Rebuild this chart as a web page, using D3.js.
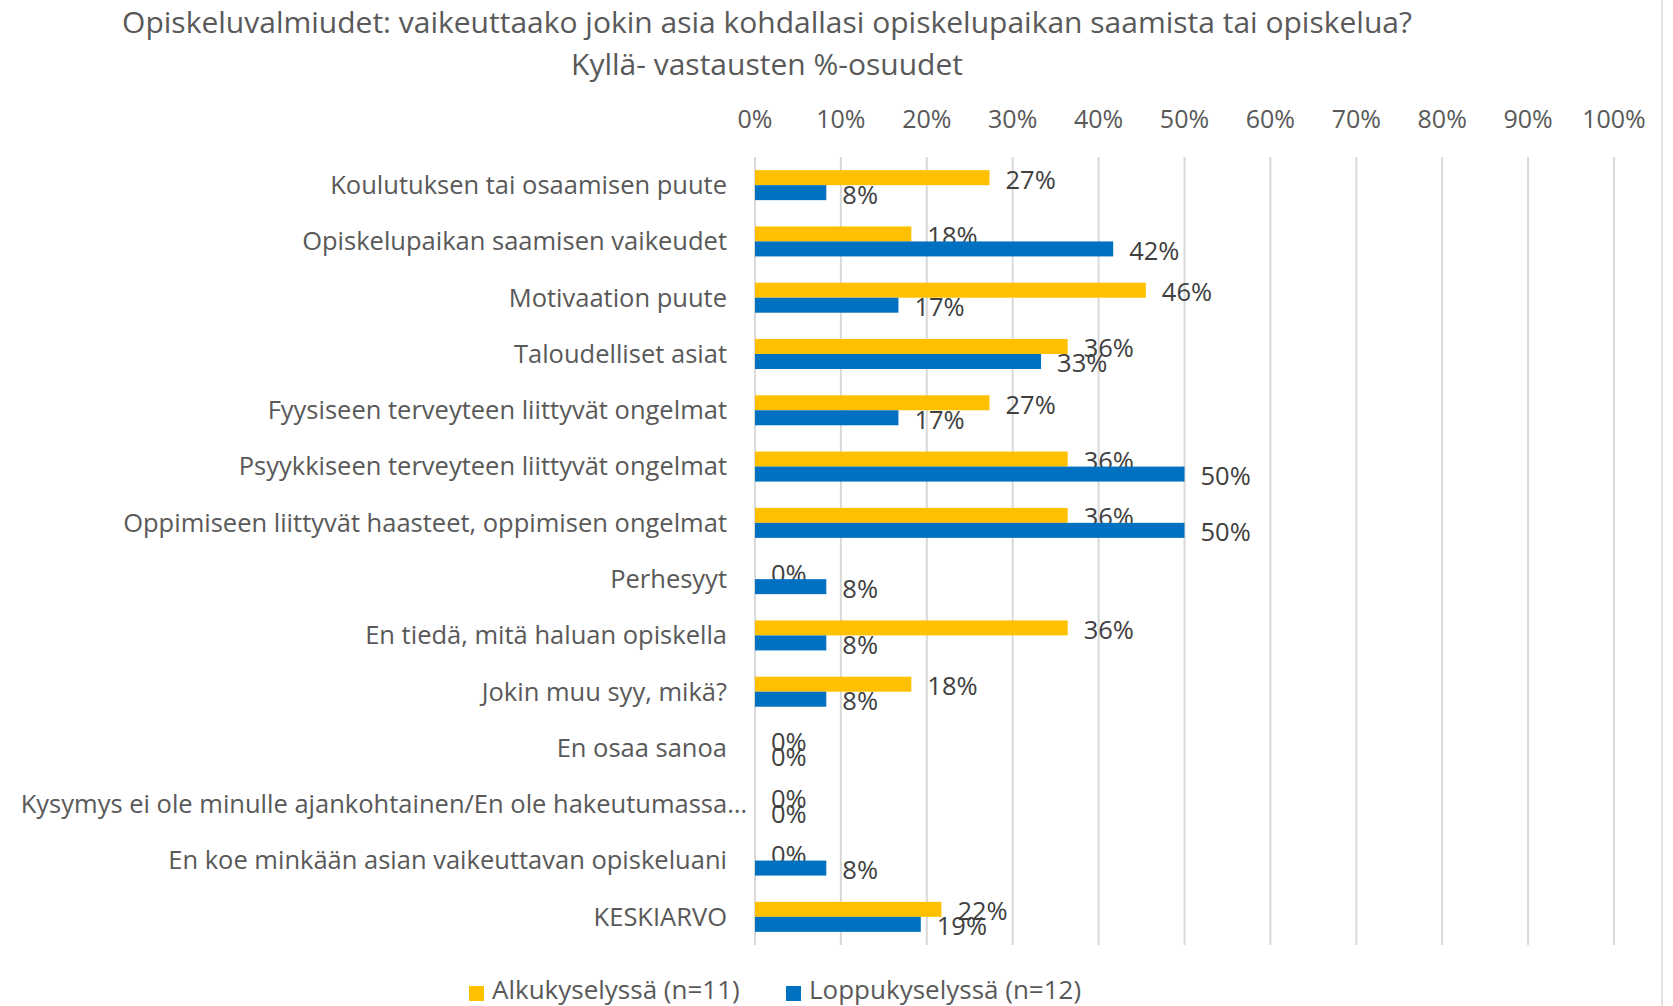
<!DOCTYPE html>
<html>
<head>
<meta charset="utf-8">
<script src="https://cdn.jsdelivr.net/npm/d3@7"></script>
<style>
  body { margin: 0; background: #fff; }
  svg { display: block; font-family: "Open Sans", sans-serif; }
</style>
</head>
<body>
<svg id="chart"></svg>
<script>
const categories = [
    'Koulutuksen tai osaamisen puute',
    'Opiskelupaikan saamisen vaikeudet',
    'Motivaation puute',
    'Taloudelliset asiat',
    'Fyysiseen terveyteen liittyvät ongelmat',
    'Psyykkiseen terveyteen liittyvät ongelmat',
    'Oppimiseen liittyvät haasteet, oppimisen ongelmat',
    'Perhesyyt',
    'En tiedä, mitä haluan opiskella',
    'Jokin muu syy, mikä?',
    'En osaa sanoa',
    'Kysymys ei ole minulle ajankohtainen/En ole hakeutumassa…',
    'En koe minkään asian vaikeuttavan opiskeluani',
    'KESKIARVO'
];
// % of "yes" answers
const alkuValues = [27.3, 18.2, 45.5, 36.4, 27.3, 36.4, 36.4, 0, 36.4, 18.2, 0, 0, 0, 21.7];
const loppuValues = [8.3, 41.7, 16.7, 33.3, 16.7, 50, 50, 8.3, 8.3, 8.3, 0, 0, 8.3, 19.3];
const seriesNames = ['Alkukyselyssä (n=11)', 'Loppukyselyssä (n=12)'];
const seriesColors = ['#FFC000', '#0070C0'];
const tickValues = [0, 10, 20, 30, 40, 50, 60, 70, 80, 90, 100];

function drawChart() {
    const width = 1673;
    const height = 1006;
    const svg = d3.select('#chart')
        .attr('width', width)
        .attr('height', height);

    const x = d3.scaleLinear().domain([0, 100]).range([755, 1614]);
    const y = d3.scaleBand().domain(categories).range([157, 945])
        .paddingInner(0.467).paddingOuter(0.2335);
    const ySub = d3.scaleBand().domain([0, 1]).range([0, y.bandwidth()]);

    // chart frame edge on the right
    svg.append('line')
        .attr('x1', 1662).attr('x2', 1662)
        .attr('y1', 0).attr('y2', height)
        .style('stroke', '#d9d9d9').style('stroke-width', 1.5);

    // Title
    const title = svg.append('text')
        .attr('text-anchor', 'middle')
        .style('font-size', '30px')
        .style('fill', '#595959');
    title.append('tspan').attr('x', 767).attr('y', 33)
        .text('Opiskeluvalmiudet: vaikeuttaako jokin asia kohdallasi opiskelupaikan saamista tai opiskelua?');
    title.append('tspan').attr('x', 767).attr('y', 75)
        .text('Kyllä- vastausten %-osuudet');

    // gridlines
    svg.selectAll('.grid')
        .data(tickValues)
        .enter().append('line')
        .attr('class', 'grid')
        .attr('x1', d => x(d)).attr('x2', d => x(d))
        .attr('y1', 157).attr('y2', 945)
        .style('stroke', '#d9d9d9')
        .style('stroke-width', 2);

    // top tick labels
    svg.selectAll('.tick-label')
        .data(tickValues)
        .enter().append('text')
        .attr('class', 'tick-label')
        .attr('x', d => x(d))
        .attr('y', 128)
        .attr('text-anchor', 'middle')
        .style('font-size', '25px')
        .style('fill', '#595959')
        .text(d => d + '%');

    // category labels (the truncated one sits a bit further right, like in Excel)
    svg.selectAll('.cat-label')
        .data(categories)
        .enter().append('text')
        .attr('class', 'cat-label')
        .attr('x', d => d.endsWith('…') ? 747 : 727)
        .attr('y', d => y(d) + y.bandwidth() / 2)
        .attr('dy', '0.35em')
        .attr('text-anchor', 'end')
        .style('font-size', '25.5px')
        .style('fill', '#595959')
        .text(d => d);

    const series = [alkuValues, loppuValues];
    series.forEach((values, si) => {
        const rows = categories.map((c, i) => ({ cat: c, value: values[i] }));

        svg.selectAll('.bar-' + si)
            .data(rows)
            .enter().append('rect')
            .attr('class', 'bar-' + si)
            .attr('x', x(0))
            .attr('y', d => y(d.cat) + ySub(si))
            .attr('width', d => x(d.value) - x(0))
            .attr('height', ySub.bandwidth())
            .style('fill', seriesColors[si]);

        svg.selectAll('.val-' + si)
            .data(rows)
            .enter().append('text')
            .attr('class', 'val-' + si)
            .attr('x', d => x(d.value) + 16)
            .attr('y', d => y(d.cat) + ySub(si) + ySub.bandwidth() / 2 + 2)
            .attr('dy', '0.35em')
            .style('font-size', '25.5px')
            .style('fill', '#404040')
            .text(d => Math.round(d.value) + '%');
    });

    // legend
    const legendX = [469, 786];
    const legend = svg.selectAll('.legend')
        .data(seriesNames)
        .enter().append('g')
        .attr('class', 'legend')
        .attr('transform', (d, i) => `translate(${legendX[i]}, 986)`);

    legend.append('rect')
        .attr('width', 15)
        .attr('height', 15)
        .style('fill', (d, i) => seriesColors[i]);

    legend.append('text')
        .attr('x', 23)
        .attr('y', 13)
        .style('font-size', '26px')
        .style('fill', '#595959')
        .text(d => d);
}

window.addEventListener('load', drawChart);
</script>
</body>
</html>
